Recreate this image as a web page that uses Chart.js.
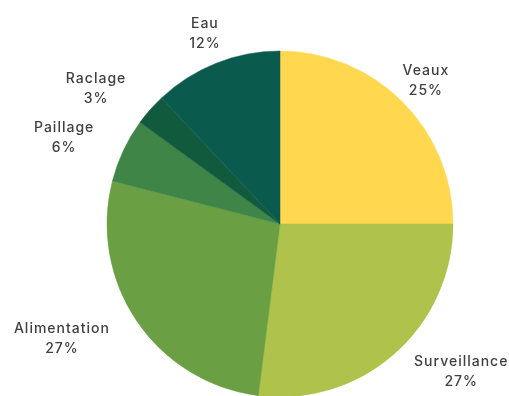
<!DOCTYPE html>
<html>
<head>
<meta charset="utf-8">
<style>
  html, body { margin: 0; padding: 0; background: #ffffff; }
  #wrap { width: 509px; height: 396px; position: relative; }
</style>
<script src="https://cdn.jsdelivr.net/npm/chart.js@4.4.1/dist/chart.umd.min.js"></script>
</head>
<body>
<div id="wrap"><canvas id="pie"></canvas></div>
<script>
  // Slices in clockwise order starting at 12 o'clock.
  const labels = ["Veaux", "Surveillance", "Alimentation", "Paillage", "Raclage", "Eau"];
  const shares = [25, 27, 27, 6, 3, 12];
  const colors = ["#ffd84f", "#afc24b", "#6aa043", "#3e8547", "#125a3e", "#0a5a4d"];

  // Extra nudge (px) for each label after the outward placement.
  const labelNudge = [[0, 0], [29, -4], [-27, 1], [-23, 0], [-24, -1], [-2, -1]];

  const FONT = "500 14px Inter, 'Open Sans', sans-serif";
  const TEXT_COLOR = "#404040";
  const LINE_H = 20;

  // Draws "Name / NN%" outside each slice, pushed away from the arc.
  const outsideLabels = {
    id: "outsideLabels",
    afterDatasetsDraw(chart) {
      const ctx = chart.ctx;
      const meta = chart.getDatasetMeta(0);
      ctx.save();
      ctx.font = FONT;
      ctx.letterSpacing = "1px";
      ctx.fillStyle = TEXT_COLOR;
      ctx.textAlign = "center";
      ctx.textBaseline = "middle";
      meta.data.forEach(function (arc, i) {
        const p = arc.getProps(["x", "y", "startAngle", "endAngle", "outerRadius"], true);
        const mid = (p.startAngle + p.endAngle) / 2;
        const dx = Math.cos(mid), dy = Math.sin(mid);
        const lines = [labels[i], shares[i] + "%"];
        const w = Math.max.apply(null, lines.map(function (t) { return ctx.measureText(t).width; }));
        const h = LINE_H * 2;
        const d = p.outerRadius + 10;
        const cx = p.x + dx * d + dx * w / 2 + labelNudge[i][0];
        const cy = p.y + dy * d + dy * h / 2 + labelNudge[i][1];
        ctx.fillText(lines[0], cx, cy - LINE_H / 2);
        ctx.fillText(lines[1], cx, cy + LINE_H / 2);
      });
      ctx.restore();
    },
  };

  new Chart(document.getElementById("pie"), {
    type: "pie",
    data: {
      labels: labels,
      datasets: [{
        data: shares,
        backgroundColor: colors,
        borderColor: colors,
        borderWidth: 0.5,
        radius: 173,
      }],
    },
    options: {
      responsive: true,
      maintainAspectRatio: false,
      animation: false,
      layout: { padding: { left: 51, right: 0, top: 52, bottom: 0 } },
      plugins: { legend: { display: false }, tooltip: { enabled: false } },
    },
    plugins: [outsideLabels],
  });
</script>
</body>
</html>
